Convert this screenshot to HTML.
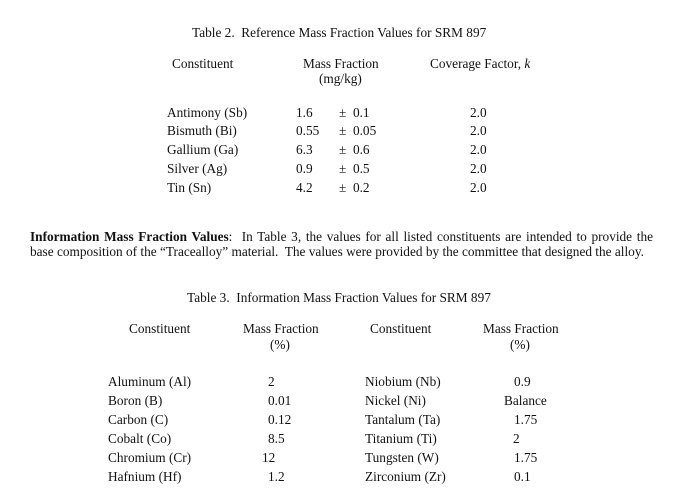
<!DOCTYPE html>
<html><head><style>
body{margin:0;width:681px;height:501px;background:#fff;position:relative;overflow:hidden;font-family:"Liberation Serif",serif;font-size:13.3px;color:#111}
.t{position:absolute;white-space:nowrap;line-height:16px}
.p{position:absolute;left:30px;width:623px;text-align:justify;text-align-last:justify;line-height:16px;white-space:nowrap}
</style></head><body>
<div class="t" style="left:192px;top:25px">Table 2.&nbsp; Reference Mass Fraction Values for SRM 897</div>
<div class="t" style="left:172px;top:56px">Constituent</div>
<div class="t" style="left:303px;top:56px">Mass Fraction</div>
<div class="t" style="left:319px;top:71px">(mg/kg)</div>
<div class="t" style="left:430px;top:56px">Coverage Factor, <i>k</i></div>

<div class="t" style="left:167px;top:105px">Antimony (Sb)</div>
<div class="t" style="left:167px;top:123px">Bismuth (Bi)</div>
<div class="t" style="left:167px;top:142px">Gallium (Ga)</div>
<div class="t" style="left:167px;top:161px">Silver (Ag)</div>
<div class="t" style="left:167px;top:180px">Tin (Sn)</div>
<div class="t" style="left:296px;top:105px">1.6</div>
<div class="t" style="left:296px;top:123px">0.55</div>
<div class="t" style="left:296px;top:142px">6.3</div>
<div class="t" style="left:296px;top:161px">0.9</div>
<div class="t" style="left:296px;top:180px">4.2</div>
<div class="t" style="left:339px;top:105px">±&nbsp; 0.1</div>
<div class="t" style="left:339px;top:123px">±&nbsp; 0.05</div>
<div class="t" style="left:339px;top:142px">±&nbsp; 0.6</div>
<div class="t" style="left:339px;top:161px">±&nbsp; 0.5</div>
<div class="t" style="left:339px;top:180px">±&nbsp; 0.2</div>
<div class="t" style="left:470px;top:105px">2.0</div>
<div class="t" style="left:470px;top:123px">2.0</div>
<div class="t" style="left:470px;top:142px">2.0</div>
<div class="t" style="left:470px;top:161px">2.0</div>
<div class="t" style="left:470px;top:180px">2.0</div>

<div class="p" style="top:229px"><b>Information Mass Fraction Values</b>:&nbsp; In Table 3, the values for all listed constituents are intended to provide the</div>
<div class="t" style="left:30px;top:244px">base composition of the “Tracealloy” material.&nbsp; The values were provided by the committee that designed the alloy.</div>

<div class="t" style="left:187px;top:290px">Table 3.&nbsp; Information Mass Fraction Values for SRM 897</div>
<div class="t" style="left:129px;top:321px">Constituent</div>
<div class="t" style="left:243px;top:321px">Mass Fraction</div>
<div class="t" style="left:270px;top:337px">(%)</div>
<div class="t" style="left:370px;top:321px">Constituent</div>
<div class="t" style="left:483px;top:321px">Mass Fraction</div>
<div class="t" style="left:510px;top:337px">(%)</div>

<div class="t" style="left:108px;top:374px">Aluminum (Al)</div>
<div class="t" style="left:108px;top:393px">Boron (B)</div>
<div class="t" style="left:108px;top:412px">Carbon (C)</div>
<div class="t" style="left:108px;top:431px">Cobalt (Co)</div>
<div class="t" style="left:108px;top:450px">Chromium (Cr)</div>
<div class="t" style="left:108px;top:469px">Hafnium (Hf)</div>
<div class="t" style="left:268px;top:374px">2</div>
<div class="t" style="left:268px;top:393px">0.01</div>
<div class="t" style="left:268px;top:412px">0.12</div>
<div class="t" style="left:268px;top:431px">8.5</div>
<div class="t" style="left:262px;top:450px">12</div>
<div class="t" style="left:268px;top:469px">1.2</div>

<div class="t" style="left:365px;top:374px">Niobium (Nb)</div>
<div class="t" style="left:365px;top:393px">Nickel (Ni)</div>
<div class="t" style="left:365px;top:412px">Tantalum (Ta)</div>
<div class="t" style="left:365px;top:431px">Titanium (Ti)</div>
<div class="t" style="left:365px;top:450px">Tungsten (W)</div>
<div class="t" style="left:365px;top:469px">Zirconium (Zr)</div>
<div class="t" style="left:514px;top:374px">0.9</div>
<div class="t" style="left:504px;top:393px">Balance</div>
<div class="t" style="left:514px;top:412px">1.75</div>
<div class="t" style="left:513px;top:431px">2</div>
<div class="t" style="left:514px;top:450px">1.75</div>
<div class="t" style="left:514px;top:469px">0.1</div>
</body></html>
